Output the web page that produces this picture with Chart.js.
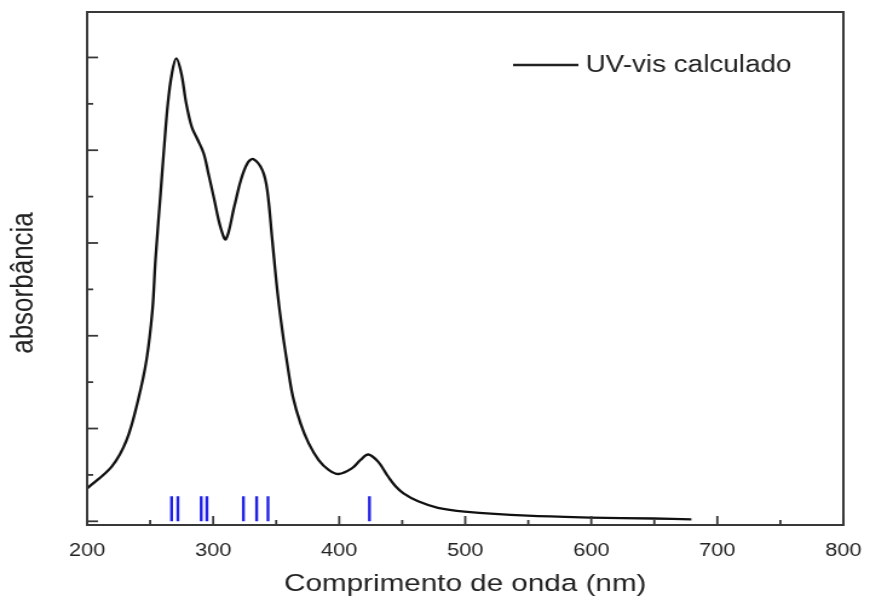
<!DOCTYPE html>
<html>
<head>
<meta charset="utf-8">
<title>UV-vis calculado</title>
<script src="https://cdn.jsdelivr.net/npm/chart.js@4.4.1/dist/chart.umd.min.js"></script>
<style>
  html, body { margin: 0; padding: 0; background: #fff; }
</style>
</head>
<body>
<!-- the original picture is stretched sideways, so the canvas is too -->
<canvas id="uvGrafico" width="719" height="599" style="display:block;width:870px;height:599px"></canvas>
<script>
// Espectro calculado
const comprimentoOnda = [200, 219.5, 231.3, 240.4, 247.1, 251.8, 254.2, 258.3, 260.9, 264.1,
    267.3, 270.7, 274.7, 278.6, 283.0, 287.8, 292.5, 296.2, 300.9, 305.7,
    310.1, 316.7, 322.0, 327.2, 331.7, 339.0, 342.9, 346.9, 350.8, 354.8,
    358.7, 363.2, 369.3, 375.8, 383.7, 391.6, 399.5, 410.0, 416.8, 423.1,
    431.0, 438.9, 444.5, 451.0, 462.6, 478.3, 499.4, 549.3, 599.2, 649.2, 679.4];
const absorbancia = [0.071, 0.118, 0.175, 0.261, 0.348, 0.455, 0.563, 0.708, 0.800, 0.902,
    0.966, 0.998, 0.966, 0.901, 0.850, 0.822, 0.793, 0.750, 0.693, 0.635,
    0.608, 0.678, 0.736, 0.772, 0.781, 0.757, 0.714, 0.606, 0.499, 0.412,
    0.341, 0.269, 0.211, 0.168, 0.132, 0.111, 0.102, 0.114, 0.132, 0.144,
    0.128, 0.096, 0.076, 0.060, 0.043, 0.029, 0.021, 0.012, 0.008, 0.006, 0.004];

// Transições (barras azuis)
const transicoesNm = [267, 272, 290.5, 295, 324, 334.5, 343.5, 424];
const alturaTransicao = 0.054;

// Eixos
const xTicks = [200, 300, 400, 500, 600, 700, 800];
const rotuloSerie = 'UV-vis calculado';
const tituloX = 'Comprimento de onda (nm)';
const tituloY = 'absorbância';

const fonte = '"Liberation Sans", Arial, sans-serif';

// cada transição vira um segmento vertical, separados por null
const segmentos = [];
transicoesNm.forEach(nm => {
    segmentos.push({ x: nm, y: 0 });
    segmentos.push({ x: nm, y: alturaTransicao });
    segmentos.push({ x: nm, y: null });
});

// moldura, ticks para dentro, legenda e título do eixo y
const molduraPlugin = {
    id: 'moldura',
    afterDraw(chart) {
        const { ctx, chartArea: a, scales: { x, y } } = chart;
        const linha = (x1, y1, x2, y2) => {
            ctx.beginPath();
            ctx.moveTo(x1, y1);
            ctx.lineTo(x2, y2);
            ctx.stroke();
        };
        ctx.save();
        ctx.strokeStyle = '#383838';
        ctx.lineWidth = 2;
        ctx.strokeRect(a.left, a.top, a.right - a.left, a.bottom - a.top);

        ctx.lineWidth = 1.8;
        xTicks.forEach((v, i) => {
            const px = x.getPixelForValue(v);
            linha(px, a.bottom, px, a.bottom - 9);
            if (i < xTicks.length - 1) {
                const pm = x.getPixelForValue(v + 50);
                linha(pm, a.bottom, pm, a.bottom - 5);
            }
        });
        for (let i = 0; i * 0.1 <= y.max; i++) {
            const py = y.getPixelForValue(i * 0.1);
            linha(a.left, py, a.left + (i % 2 === 0 ? 9 : 5), py);
        }

        // legenda
        ctx.strokeStyle = '#222';
        ctx.lineWidth = 2.4;
        linha(424, 65, 478, 65);
        ctx.fillStyle = '#222';
        ctx.font = '23px ' + fonte;
        ctx.textBaseline = 'middle';
        ctx.fillText(rotuloSerie, 484, 66);

        // título do eixo y (um pouco abaixo do centro, como no original)
        ctx.translate(20, 283);
        ctx.rotate(-Math.PI / 2);
        ctx.textAlign = 'center';
        ctx.font = '26px ' + fonte;
        ctx.fillText(tituloY, 0, 0);
        ctx.restore();
    }
};

const ctx = document.getElementById('uvGrafico').getContext('2d');
const grafico = new Chart(ctx, {
    type: 'line',
    data: {
        datasets: [
            {
                label: rotuloSerie,
                data: comprimentoOnda.map((nm, i) => ({ x: nm, y: absorbancia[i] })),
                borderColor: '#111',
                borderWidth: 2.3,
                pointRadius: 0,
                tension: 0.35,
                fill: false
            },
            {
                label: 'transições',
                data: segmentos,
                borderColor: '#2222e6',
                borderWidth: 2.4,
                pointRadius: 0,
                spanGaps: false,
                fill: false
            }
        ]
    },
    options: {
        responsive: false,
        animation: false,
        devicePixelRatio: 1,
        layout: { padding: { left: 0, right: 18, top: 12, bottom: 0 } },
        plugins: {
            legend: { display: false },
            tooltip: { enabled: false }
        },
        scales: {
            x: {
                type: 'linear',
                min: 200,
                max: 800,
                afterBuildTicks: scale => {
                    scale.ticks = xTicks.map(v => ({ value: v }));
                },
                afterFit: scale => { scale.height = 74; },
                grid: { display: false },
                border: { display: false },
                ticks: {
                    color: '#222',
                    padding: 7,
                    font: { family: fonte, size: 18 }
                },
                title: {
                    display: true,
                    text: tituloX,
                    color: '#222',
                    font: { family: fonte, size: 24.5 },
                    padding: { top: 0, bottom: 0 }
                }
            },
            y: {
                min: -0.008,
                max: 1.098,
                afterFit: scale => { scale.width = 72; },
                grid: { display: false },
                border: { display: false },
                ticks: { display: false },
                title: { display: false }
            }
        }
    },
    plugins: [molduraPlugin]
});
</script>
</body>
</html>
